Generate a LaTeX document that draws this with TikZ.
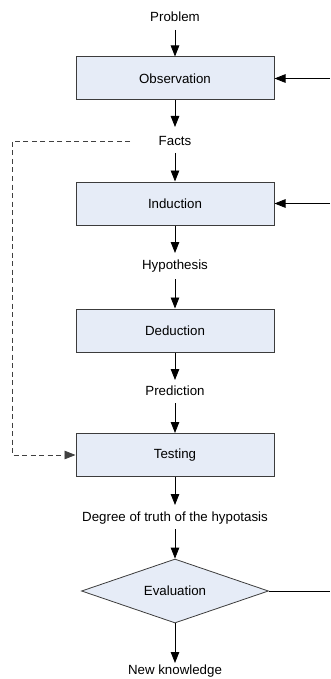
\documentclass[tikz,border=0pt]{standalone}
\usepackage{fontspec}
\setmainfont{Liberation Sans}
\usetikzlibrary{arrows.meta,shapes.geometric}
\definecolor{boxfill}{RGB}{230,236,247}
\definecolor{boxline}{RGB}{60,60,60}
\begin{document}
\begin{tikzpicture}[x=1pt,y=-1pt,
  every node/.style={font=\fontsize{13.3}{15}\selectfont},
  stepbox/.style={draw=boxline,fill=boxfill,line width=1pt,minimum width=198pt,minimum height=43pt,inner sep=0pt},
  decision/.style={diamond,aspect=2.92,draw=boxline,fill=boxfill,line width=0.8pt,minimum width=187pt,minimum height=64pt,inner sep=0pt},
  label/.style={inner sep=0pt,minimum height=12pt},
  flow/.style={line width=0.8pt,-{Triangle[length=11pt,width=8.5pt]}},
  feedback/.style={line width=0.8pt,draw=black!75,dash pattern=on 5pt off 3.5pt,-{Triangle[length=11pt,width=8.5pt]}}]
\useasboundingbox (0,0) rectangle (330,679);

% process steps
\node[stepbox] (obs) at (175,78.5) {Observation};
\node[stepbox] (ind) at (175,203.5) {Induction};
\node[stepbox] (ded) at (175,330.5) {Deduction};
\node[stepbox] (tes) at (175,455) {Testing};
\node[decision] (eva) at (175,591) {Evaluation};

% intermediate results
\node[label] (prob) at (175,17) {Problem};
\node[label] (fact) at (175,141) {Facts};
\node[label] (hyp)  at (175,266) {Hypothesis};
\node[label] (pred) at (175,391) {Prediction};
\node[label] (deg)  at (175,518) {Degree of truth of the hypotasis};
\node[label] (new)  at (175,671) {New knowledge};

% free ends on the right edge
\coordinate (r1) at (330,78.5);
\coordinate (r2) at (330,203.5);
\coordinate (r3) at (330,591);

% main flow
\draw[flow] (175,30) -- (obs.north);
\draw[flow] (obs.south) -- (175,127);
\draw[flow] (175,153) -- (ind.north);
\draw[flow] (ind.south) -- (175,253);
\draw[flow] (175,279) -- (ded.north);
\draw[flow] (ded.south) -- (175,380);
\draw[flow] (175,403) -- (tes.north);
\draw[flow] (tes.south) -- (175,505);
\draw[flow] (175,529) -- (eva.north);
\draw[flow] (eva.south) -- (175,663);

% feedback from the right
\draw[flow] (r1) -- (obs.east);
\draw[flow] (r2) -- (ind.east);
\draw[line width=0.8pt] (eva.east) -- (r3);

% facts go straight to testing
\draw[feedback] (130,141) -- (12,141) -- (12,455) -- (tes.west);
\end{tikzpicture}
\end{document}
